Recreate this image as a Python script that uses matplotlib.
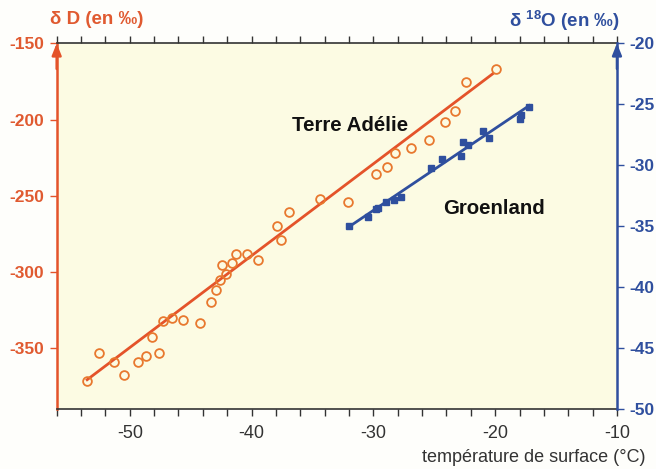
import numpy as np
import matplotlib
matplotlib.use("Agg")
import matplotlib.pyplot as plt

plt.rcParams['font.family'] = ['Liberation Sans', 'DejaVu Sans']
plt.rcParams['mathtext.default'] = 'regular'

# ---- data ----
terre_T = [-53.5, -52.5, -51.3, -50.5, -49.3, -48.7, -48.2, -47.6, -47.3, -46.5,
           -45.6, -44.2, -43.3, -42.9, -42.6, -42.1, -42.4, -41.6, -41.3, -40.4,
           -39.5, -37.9, -37.6, -36.9, -34.4, -32.1, -29.8, -28.9, -28.2, -26.9,
           -25.4, -24.1, -23.3, -22.4, -19.9]
terre_dD = [-371.2, -352.9, -359.0, -367.3, -359.0, -355.2, -342.6, -353.1, -332.1, -330.1,
            -331.4, -333.2, -319.6, -311.8, -305.2, -301.1, -295.6, -294.1, -288.2, -288.2,
            -291.9, -269.8, -279.0, -260.8, -252.1, -254.1, -235.4, -231.3, -221.7, -218.3,
            -213.7, -201.6, -194.4, -175.2, -166.9]
terre_fit_T = [-53.5, -20.2]
terre_fit_dD = [-370.5, -170.0]

groen_T = [-32.0, -30.4, -29.8, -29.6, -29.0, -28.3, -27.7, -25.3, -24.4, -22.8,
           -22.6, -22.2, -21.0, -20.5, -18.0, -17.9, -17.2]
groen_d18O = [-35.0, -34.2, -33.6, -33.5, -33.0, -32.8, -32.6, -30.2, -29.5, -29.2,
              -28.1, -28.3, -27.2, -27.8, -26.2, -25.9, -25.2]
groen_fit_T = [-32.1, -17.2]
groen_fit_d18O = [-35.1, -25.1]

x_ticks = list(range(-56, -9, 2))
x_labels = ['-50', '-40', '-30', '-20', '-10']
left_ticks = [-150, -200, -250, -300, -350]
right_ticks = [-20, -25, -30, -35, -40, -45, -50]

ORANGE = '#e4532a'
ORANGE_TXT = '#e05a30'
ORANGE_PT = '#e8782e'
BLUE = '#2f4f9e'
DARK = '#333333'

fig = plt.figure(figsize=(6.56, 4.69), dpi=100, facecolor='#fefefb')
ax = fig.add_axes([0.0864, 0.1269, 0.8541, 0.7808])
ax.set_facecolor('#fcfbe3')
ax.set_xlim(-56, -10)
ax.set_ylim(-390, -150)

ax.plot(terre_fit_T, terre_fit_dD, color=ORANGE, lw=2, zorder=3)
ax.plot(terre_T, terre_dD, 'o', mfc='none', mec=ORANGE_PT, mew=1.3, ms=6.3, zorder=4)

ax.set_xticks(x_ticks)
ax.set_xticklabels([str(v) if str(v) in x_labels else '' for v in x_ticks])
ax.tick_params(axis='x', which='both', direction='out', top=True, bottom=True,
               length=5, width=1, color=DARK, labelsize=13, labelcolor=DARK, pad=6)
ax.set_yticks(left_ticks)
ax.set_yticklabels([str(v) for v in left_ticks], fontweight='bold')
ax.tick_params(axis='y', direction='out', length=5, width=1, color=ORANGE,
               labelsize=12.5, labelcolor=ORANGE_TXT, pad=4)
for s in ['top', 'bottom']:
    ax.spines[s].set_color(DARK)
    ax.spines[s].set_linewidth(1.2)
ax.spines['left'].set_color(ORANGE)
ax.spines['left'].set_linewidth(1.8)
ax.spines['right'].set_visible(False)

ax2 = ax.twinx()
ax2.set_ylim(-50, -20)
ax2.plot(groen_fit_T, groen_fit_d18O, color=BLUE, lw=2, zorder=3)
ax2.plot(groen_T, groen_d18O, 's', color=BLUE, ms=3.8, zorder=4)
ax2.set_yticks(right_ticks)
ax2.set_yticklabels([str(v) for v in right_ticks], fontweight='bold')
ax2.tick_params(axis='y', direction='out', length=5, width=1, color=BLUE,
                labelsize=12.5, labelcolor=BLUE, pad=4)
for s in ['top', 'bottom', 'left']:
    ax2.spines[s].set_visible(False)
ax2.spines['right'].set_color(BLUE)
ax2.spines['right'].set_linewidth(1.8)

# arrows on vertical axes
ax.annotate('', xy=(0, 1.0), xytext=(0, 0.93), xycoords='axes fraction',
            arrowprops=dict(arrowstyle='-|>,head_length=0.7,head_width=0.28',
                            color=ORANGE, lw=1.8, shrinkA=0, shrinkB=0))
ax.annotate('', xy=(1, 1.0), xytext=(1, 0.93), xycoords='axes fraction',
            arrowprops=dict(arrowstyle='-|>,head_length=0.7,head_width=0.28',
                            color=BLUE, lw=1.8, shrinkA=0, shrinkB=0))

# series labels
ax.text(-31.9, -204, 'Terre Adélie', fontsize=14.8, fontweight='bold', color='#111111',
        ha='center', va='center')
ax.text(-20.1, -258, 'Groenland', fontsize=14.7, fontweight='bold', color='#111111',
        ha='center', va='center')

# axis titles
fig.text(50 / 656, 1 - 20 / 469, 'δ D (en ‰)', fontsize=13.5, fontweight='bold',
         color=ORANGE_TXT, ha='left', va='center')
fig.text(620 / 656, 1 - 21 / 469, 'δ $^{18}$O (en ‰)', fontsize=13.5, fontweight='bold',
         color=BLUE, ha='right', va='center')
fig.text(645 / 656, 1 - 457 / 469, 'température de surface (°C)', fontsize=13,
         color=DARK, ha='right', va='center')

fig.savefig('out.png', dpi=100, facecolor=fig.get_facecolor())
